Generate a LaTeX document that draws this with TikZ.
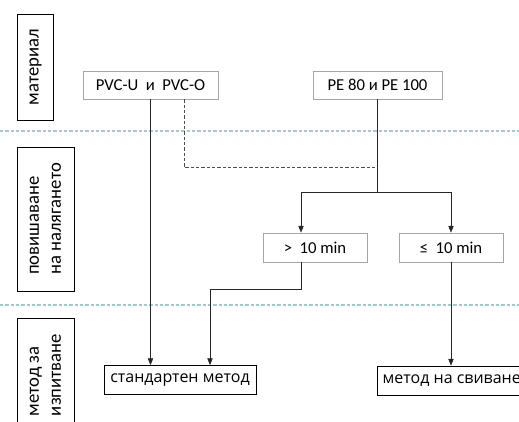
\documentclass[tikz,border=0pt]{standalone}
\usepackage{fontspec}
\setmainfont{Carlito}
\newfontfamily\opensans{Open Sans}
\usetikzlibrary{arrows.meta}
\definecolor{sepcol}{HTML}{A3C9D0}

\begin{document}
\begin{tikzpicture}[
    x=0.75pt, y=-0.75pt,
    sidebox/.style={
        draw, rotate=90, align=left, inner sep=2pt,
        font=\fontsize{14}{16.5}\selectfont
    },
    matbox/.style={
        draw=gray!70, minimum height=21pt, inner sep=3pt,
        font=\fontsize{12.5}{14}\selectfont
    },
    timebox/.style={
        draw=gray!70, minimum width=78pt, minimum height=22pt, inner sep=3pt,
        font=\fontsize{12.5}{14}\selectfont
    },
    methbox/.style={
        draw, minimum height=22pt, inner sep=4pt,
        font=\opensans\fontsize{12}{14}\selectfont
    },
    arr/.style={-{Triangle[length=5pt,width=4pt]}, black!85},
    conn/.style={black!85},
    alt/.style={dashed, dash pattern=on 2.5pt off 1.5pt, black!70},
    sep/.style={dashed, dash pattern=on 2.5pt off 1.5pt, line width=0.8pt, color=sepcol}
]
\useasboundingbox (0,0) rectangle (519,422);

% Row separators
\draw[sep] (0,131) -- (519,131);
\draw[sep] (0,305) -- (519,305);

% Row labels (left column)
\node[sidebox, minimum width=79.5pt, minimum height=27pt] (rmat) at (35.5,67) {материал};
\node[sidebox, minimum width=108pt, minimum height=42.75pt] (rload) at (45.5,219) {повишаване\\на налягането};
\node[sidebox, minimum width=85.5pt, minimum height=42.75pt] (rmeth) at (45.5,375) {метод за\\изпитване};

% Materials
\node[matbox, minimum width=101pt] (pvc) at (150.5,85) {PVC-U\ \ и\ \ PVC-O};
\node[matbox, minimum width=97pt] (pe) at (377.5,85) {PE 80 и PE 100};

% Loading time
\node[timebox] (gt) at (315,247.5) {>\ \ 10 min};
\node[timebox] (le) at (451,247.5) {≤\ \ 10 min};

% Test methods
\node[methbox, minimum width=114pt] (std) at (180,380) {стандартен метод};
\node[methbox, anchor=west] (swiv) at (377,380.5) {метод на свиване};

% Connectors
\coordinate (fork) at (377.5,192);
\coordinate (altend) at (377.5,167);
\coordinate (bend) at (210,289);
\draw[conn] (pe.south) -- (fork);
\draw[arr] (fork) -| ([xshift=-10.5pt]gt.north);
\draw[arr] (fork) -| (le.north);
\draw[alt] ([xshift=25pt]pvc.south) |- (altend);
\draw[arr] (pvc.south) -- (pvc.south |- std.north);
\draw[arr] ([xshift=-10.5pt]gt.south) |- (bend) -- (bend |- std.north);
\draw[arr] (le.south) -- (le.south |- swiv.north);

\end{tikzpicture}
\end{document}
